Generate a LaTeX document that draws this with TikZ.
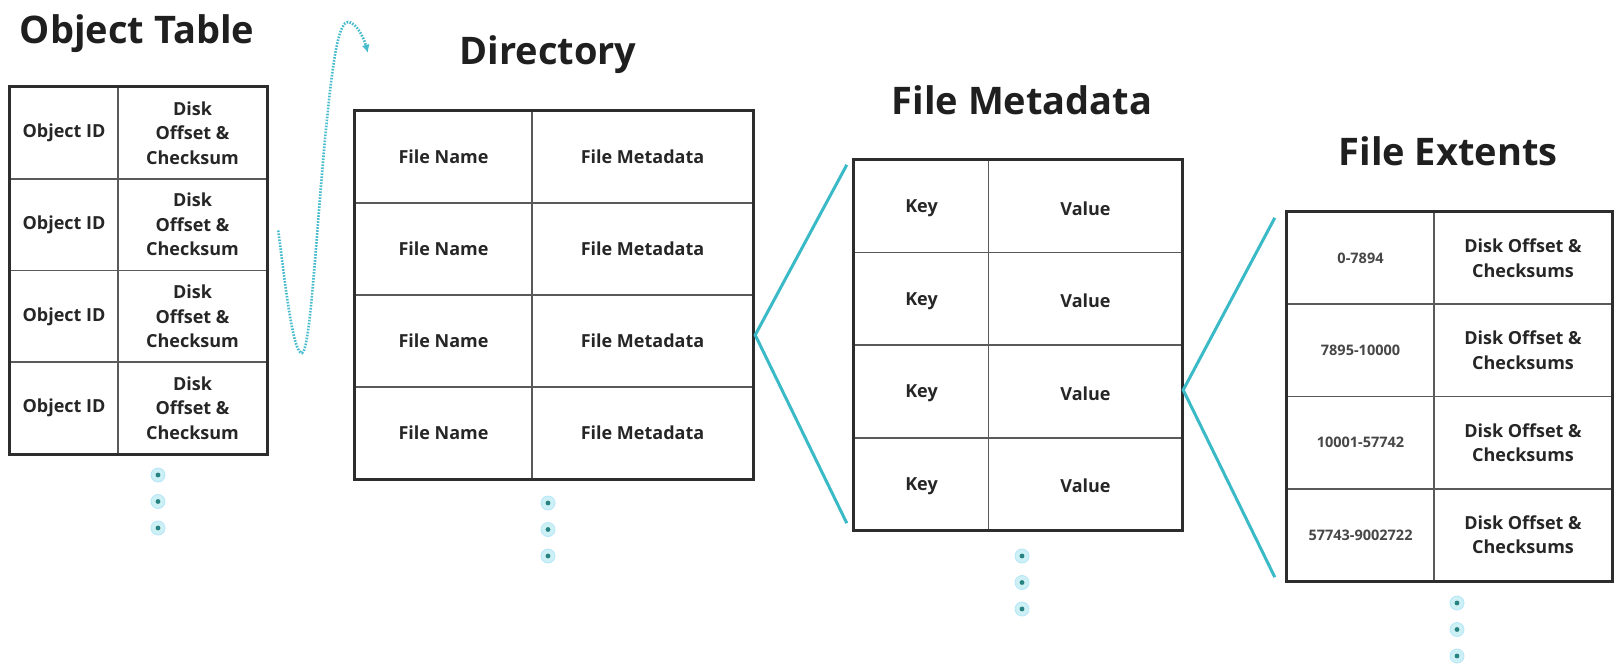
\documentclass[tikz,border=0pt]{standalone}
\usepackage{fontspec}
\setmainfont{Open Sans}
\usetikzlibrary{calc,arrows.meta}
\definecolor{linkc}{RGB}{58,186,198}
\definecolor{hookc}{RGB}{70,188,204}
\definecolor{framec}{RGB}{45,45,45}
\definecolor{rulec}{RGB}{90,90,90}
\definecolor{inkc}{RGB}{38,38,38}
\definecolor{dotc}{RGB}{40,130,130}
\definecolor{haloc}{RGB}{205,240,244}

\begin{document}
\begin{tikzpicture}[x=1pt,y=-1pt,
  tblbox/.style={rectangle,draw=none,inner sep=0pt},
  framed/.style={draw=framec,line width=3pt},
  rowrule/.style={draw=rulec,line width=1.8pt},
  cell/.style={text=inkc,font=\bfseries\fontsize{18}{24.5}\selectfont,align=center,inner sep=0pt},
  numcell/.style={text=inkc!85,font=\bfseries\fontsize{14.5}{18}\selectfont,inner sep=0pt},
  title/.style={text=black!88,font=\bfseries\fontsize{38}{44}\selectfont,anchor=base,inner sep=0pt},
  link/.style={draw=linkc,line width=3pt},
  hook/.style={draw=hookc,line width=2.6pt,dash pattern=on 1.6pt off 1.4pt},
  vdot/.style={circle,fill=haloc,draw=cyan!30,line width=0.8pt,minimum size=14pt,inner sep=0pt,
    path picture={\fill[dotc] (path picture bounding box.center) circle (2.4pt);}},
]
\fill[white] (0,0) rectangle (1614,667);
\useasboundingbox (0,0) rectangle (1614,667);

% ---------- titles ----------
\node[title] (t-ot)   at (137,43)   {Object Table};
\node[title] (t-dir)  at (548,64)   {Directory};
\node[title] (t-meta) at (1022,114) {File Metadata};
\node[title] (t-ext)  at (1448,165) {File Extents};

% ---------- table boxes ----------
\node[tblbox,minimum width=257pt,minimum height=367pt] (ot)   at (138.5,270.5) {};
\node[tblbox,minimum width=398pt,minimum height=368pt] (dir)  at (554,295)     {};
\node[tblbox,minimum width=328pt,minimum height=370pt] (meta) at (1018,345)    {};
\node[tblbox,minimum width=325pt,minimum height=369pt] (ext)  at (1449.5,396.5){};

% inner rules of each table
\foreach \t/\s in {ot/0.42, dir/0.445, meta/0.41, ext/0.452} {
  \foreach \f in {0.25,0.5,0.75}
    \draw[rowrule] ($(\t.north west)!\f!(\t.south west)$) -- ($(\t.north east)!\f!(\t.south east)$);
  \draw[rowrule] ($(\t.north west)!\s!(\t.north east)$) -- ($(\t.south west)!\s!(\t.south east)$);
  \draw[framed] (\t.north west) rectangle (\t.south east);
}

% ---------- cell texts ----------
\foreach \i in {1,...,4} {
  \pgfmathsetmacro{\yo}{87+(\i-0.5)*91.75}
  \node[cell] (ot-k\i) at (64,\yo) {Object ID};
  \node[cell] (ot-v\i) at (192.5,\yo) {Disk\\Offset \&\\Checksum};
  \pgfmathsetmacro{\yd}{111+(\i-0.5)*92}
  \node[cell] (dir-k\i) at (443.5,\yd) {File Name};
  \node[cell] (dir-v\i) at (642.5,\yd) {File Metadata};
  \pgfmathsetmacro{\ym}{160+(\i-0.5)*92.5}
  \node[cell] (meta-k\i) at (921.5,\ym+2) {Key};
  \node[cell] (meta-v\i) at (1085.5,\ym+2) {Value};
  \pgfmathsetmacro{\ye}{212+(\i-0.5)*92.25}
  \node[cell] (ext-v\i) at (1523,\ye) {Disk Offset \&\\Checksums};
}
\node[numcell] (ext-k1) at (1360.5,258.1) {0-7894};
\node[numcell] (ext-k2) at (1360.5,350.4) {7895-10000};
\node[numcell] (ext-k3) at (1360.5,442.6) {10001-57742};
\node[numcell] (ext-k4) at (1360.5,534.9) {57743-9002722};

% ---------- connectors ----------
\coordinate (dir-out)  at ($(dir.east)+(2,40)$);
\coordinate (meta-out) at ($(meta.east)+(1,45)$);
\draw[link] ($(meta.north west)+(-7,5)$) -- (dir-out) -- ($(meta.south west)+(-7,-7)$);
\draw[link] ($(ext.north west)+(-12,6)$) -- (meta-out) -- ($(ext.south west)+(-12,-4)$);

\coordinate (hook-a) at ($(ot.east)+(11,-40)$);
\coordinate (hook-b) at ($(dir.north west)+(13,-58)$);
\draw[hook,-{Latex[length=8pt,width=8pt]}] (hook-a)
  .. controls (286,290) and (293,353) .. (302,353)
  .. controls (311,353) and (318,200) .. (328,110)
  .. controls (334,50) and (340,22) .. (348,22)
  .. controls (356,22) and (364,38) .. (hook-b);

% ---------- continuation dots ----------
\foreach \n/\x/\y in {ot/158/475, dir/548/503, meta/1022/556, ext/1457/603} {
  \node[vdot] (\n-more1) at (\x,\y) {};
  \node[vdot] (\n-more2) at (\x,\y+26.5) {};
  \node[vdot] (\n-more3) at (\x,\y+53) {};
}
\end{tikzpicture}
\end{document}
